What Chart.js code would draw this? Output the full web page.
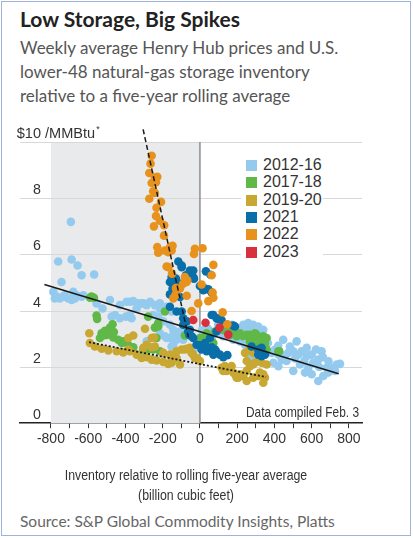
<!DOCTYPE html>
<html>
<head>
<meta charset="utf-8">
<script src="https://cdn.jsdelivr.net/npm/chart.js@4.4.1/dist/chart.umd.min.js"></script>
<style>
  body { margin: 0; background: #fff; }
  #frame { position: absolute; left: 1px; top: 1px; width: 410px; height: 535px; border: 1px solid #9fb4d8; box-sizing: border-box; }
  #title { position: absolute; left: 20px; top: 6px; font: bold 21px Lato, sans-serif; line-height: 26px; color: #222; white-space: nowrap; }
  #subtitle { position: absolute; left: 20px; top: 36px; font: 17px Lato, sans-serif; line-height: 24px; color: #555; white-space: nowrap; }
  #source { position: absolute; left: 20px; top: 511px; font: 15.5px Lato, sans-serif; line-height: 20px; color: #666; white-space: nowrap; }
  #chartBox { position: absolute; left: 0; top: 118px; width: 413px; height: 390px; }
  #legend { position: absolute; left: 241px; top: 155px; width: 82px; height: 105px; background: #fff; }
  #legend div { position: absolute; left: 5px; font: 16px "Liberation Sans", sans-serif; color: #333; line-height: 17px; white-space: nowrap; }
  #legend span { display: inline-block; width: 11px; height: 11px; margin-right: 6px; vertical-align: -1px; }
</style>
</head>
<body>
<div id="frame"></div>
<div id="title">Low Storage, Big Spikes</div>
<div id="subtitle">Weekly average Henry Hub prices and U.S.<br>lower-48 natural-gas storage inventory<br>relative to a five-year rolling average</div>
<div id="chartBox"><canvas id="chart"></canvas></div>
<div id="legend"></div>
<div id="source">Source: S&amp;P Global Commodity Insights, Platts</div>
<script>
// 데이터 (x: 저장량 편차 bcf, y: $/MMBtu)
//--------------------------------------------------------//
const seriesNames  = ['2012-16', '2017-18', '2019-20', '2021', '2022', '2023'];
const seriesColors = ['#93caee', '#5fb848', '#c8a832', '#0a6fa8', '#e8921e', '#d8303c'];

const s2012_16 = [
  [-693,7.16],[-761,5.75],[-689,5.82],[-657,5.61],[-635,5.26],[-568,5.29],[-743,5.02],
  [-787,4.67],[-770,4.5],[-752,4.44],[-725,4.55],[-707,4.44],[-689,4.38],[-662,4.55],[-626,4.55],
  [-680,4.67],[-779,4.44],[-734,4.5],[-671,4.44],[-635,4.5],
  [-555,4.26],[-523,4.08],[-483,4.38],[-456,3.85],[-430,3.73],[-474,3.79],[-376,4.32],[-358,4.34],
  [-331,4.26],[-376,3.85],[-367,3.73],[-340,4.08],[-397,3.79],[-430,4.2],[-394,4.32],[-313,4.26],
  [-286,4.2],[-215,4.26],[-179,4.14],[-304,4.26],[-268,4.32],[-242,4.2],[-215,4.08],[-152,3.97],
  [-251,3.85],[-224,3.79],[-197,3.62],[-161,3.5],[-143,3.32],[-116,3.2],[-215,3.2],[-188,3.09],
  [-161,3.03],[-125,2.97],[-90,2.97],[-286,2.91],[-143,2.79],[-179,3.03],[-143,3.14],[-107,3.26],
  [-71,3.32],[-152,2.73],[10,3.3],[45,3.35],[80,3.2],
  [63,3.03],[125,3.09],[170,3.5],[215,3.38],[251,3.32],[286,3.44],[313,3.32],[215,2.91],[251,2.79],
  [286,2.73],[179,2.97],[98,3.5],[-27,2.68],[27,2.91],
  [233,3.5],[259,3.56],[286,3.5],[313,3.44],[340,3.32],[251,3.26],[233,3.14],[242,2.79],[251,2.5],
  [268,2.32],[295,2.26],[394,2.15],[421,2.03],[385,2.5],[403,2.62],[447,2.97],[483,2.73],[519,2.91],
  [501,2.56],[528,2.44],[546,2.56],[573,2.38],[600,2.44],[623,2.62],[653,2.56],[635,2.26],[608,2.15],
  [582,1.97],[564,1.8],[600,1.74],[635,1.5],[662,1.68],[689,1.8],[707,1.97],[734,2.09],[752,2.11],
  [725,1.86],[680,1.97],[501,1.86],[537,2.09],[465,2.21],[439,2.26],[474,2.5],[573,2.68],[421,2.44],
  [365,2.85],[420,2.75],[455,2.4],[510,2.3],[560,2.2],[640,2.0],[690,2.2],[660,2.35]
];
const s2017_18 = [
  [-582,4.5],[-590,4.46],[-569,4.46],[-555,3.83],[-552,3.71],[-469,3.52],[-483,3.4],[-528,3.2],
  [-501,3.14],[-537,3.03],[-465,3.05],[-439,2.97],[-412,2.91],[-385,2.79],[-358,2.7],[-278,3.79],
  [-278,2.62],[-510,3.29],[-462,3.24],[-519,3.12],[-420,2.85],[-304,2.62],[-286,2.56],[-251,2.62],
  [-215,2.56],[-233,3.03],[-242,3.4],[-224,3.56],[0,3.03],[36,2.97],[72,2.85],[45,2.68],[18,2.79],
  [-188,3.97],[-224,3.44],[-81,3.12],[18,3.03],[36,3.2],[116,3.38],[152,3.36],[179,3.26],[215,3.2],
  [251,3.14],[286,3.03],[322,2.97],[344,2.77],[313,2.68],[358,2.62],[286,2.79],[81,3.26],[125,3.32],
  [161,3.14],[197,3.09],[233,3.09],[268,3.14],[304,3.14],[340,3.09],[358,3.03],[322,2.91],[349,2.85],
  [268,2.91],[421,2.56],[295,3.2],[426,2.56]
];
const s2019_20 = [
  [-594,3.2],[-591,2.85],[-564,2.73],[-528,2.65],[-492,2.59],[-447,2.56],[-412,2.52],[-376,2.56],
  [-340,2.44],[-313,2.32],[-286,2.35],[-259,2.26],[-233,2.23],[-197,2.18],[-170,2.11],[-152,2.15],
  [-125,2.56],[-98,2.62],[-71,2.65],[-45,2.5],[-27,2.32],[0,2.21],[-242,2.73],[-259,3.03],[-286,2.79],
  [-385,2.62],[-295,3.36],[-385,3.03],[-358,3.12],[-247,3.05],[-304,2.68],[-259,2.7],[-197,2.5],
  [-161,2.44],[-125,2.32],[-152,2.21],[-107,2.09],[-81,2.62],[-54,2.68],[-36,2.44],[-18,2.32],
  [116,1.97],[143,1.86],[179,1.8],[215,1.74],[251,1.86],[251,2.21],[286,2.09],[313,2.21],[322,1.8],
  [349,1.62],[197,1.62],[125,1.86],[134,2.03],[170,2.03],[188,1.74],[206,1.62],[233,1.68],[251,1.5],
  [286,1.62],[313,1.68],[340,1.44],[340,1.74],[268,2.03],[295,2.15],[331,2.15],[358,2.09],[242,2.5],
  [286,2.5],[268,2.68]
];
const s2021 = [
  [-116,5.75],[-98,5.55],[-36,5.43],[32,5.4],[-75,5.26],[-32,5.14],[-161,5.02],[-129,5.14],[-104,4.96],
  [-147,4.79],[-161,4.58],[0,4.88],[27,4.79],[45,4.76],[-98,5.61],[-54,5.43],[-36,5.2],[-152,5.2],
  [-143,5.02],[57,5.28],[-107,4.49],[-161,4.14],[-125,3.97],[-98,3.97],[-90,3.73],[-71,3.62],[-54,3.32],
  [-57,3.14],[-36,3.03],[-18,2.79],[0,2.77],[27,2.68],[63,2.7],[86,2.56],[107,2.44],[147,2.42],[63,3.85],
  [89,3.73],[116,3.67],[188,3.44],[89,3.26],[72,3.85],[98,3.71],[179,3.47],[54,3.03],[81,2.62],[125,2.35],
  [313,2.62],[322,2.44],[349,2.44],[27,2.85],[18,4.73],[63,4.65],[-90,3.5],[-63,3.26],[-45,3.09],[9,2.62],
  [36,2.56],[72,2.44],[277,2.73],[331,2.68],[313,2.44],[331,2.38]
];
const s2022 = [
  [-259,9.51],[-265,9.23],[-272,8.9],[-242,8.74],[-229,8.76],[-259,8.54],[-236,8.57],[-251,8.25],
  [-242,8.19],[-272,7.98],[-209,7.87],[-233,7.66],[-236,7.37],[-215,7.2],[-192,7.04],[-247,7.0],
  [-193,6.67],[-229,6.26],[-224,6.06],[-161,6.26],[-147,6.31],[-152,6.14],[-170,6.08],[-188,6.14],
  [-27,6.2],[-32,6.02],[14,6.22],[72,5.63],[-179,5.57],[-150,5.32],[63,5.26],[-81,5.2],[-68,5.08],
  [-90,4.96],[-107,4.79],[-125,4.67],[-134,4.53],[-71,4.53],[72,4.46],[9,4.93],[-170,5.55],[-72,5.02],
  [-129,4.81],[68,4.65],[45,4.34],[-9,4.26],[-45,3.99],[122,3.94],[147,3.52],[-143,4.44]
];
const s2023 = [[-36,3.67],[30,3.57],[105,3.4],[152,3.15]];

// 추세선 (양 끝점)
const trendAll  = [[-835,4.93],[745,1.76]];
const trend1920 = [[-595,2.88],[355,1.64]];
const trend2022 = [[-305,10.45],[-60,3.0]];

const xTickValues = [-800,-700,-600,-500,-400,-300,-200,-100,0,100,200,300,400,500,600,700,800];
const yTickValues = [0, 2, 4, 6, 8, 10];
const xTitleLines = ['Inventory relative to rolling five-year average', '(billion cubic feet)'];
const noteText = 'Data compiled Feb. 3';

const FONT = '"Liberation Sans", Arial, sans-serif';

// 범례 (HTML)
//--------------------------------------------------------//
const legendEl = document.getElementById('legend');
seriesNames.forEach(function(name, i) {
  let row = document.createElement('div');
  row.style.top = (1 + i * 17.3) + 'px';
  row.innerHTML = '<span style="background:' + seriesColors[i] + '"></span>' + name;
  legendEl.appendChild(row);
});

// 좁은 글자 (가로 압축) 출력
let drawNarrow = function(ctx, text, x, y, align, sx) {
  ctx.save();
  ctx.translate(x, y);
  ctx.scale(sx, 1);
  ctx.textAlign = align;
  ctx.fillText(text, 0, 0);
  ctx.restore();
};

// 차트
//--------------------------------------------------------//
let toXY = function(arr) { return arr.map(function(p) { return {x: p[0], y: p[1]}; }); };
let seriesData = [s2012_16, s2017_18, s2019_20, s2021, s2022, s2023];

let datasets = seriesData.map(function(d, i) {
  return {
    label: seriesNames[i],
    data: toXY(d),
    backgroundColor: seriesColors[i],
    borderWidth: 0,
    pointRadius: 4.3,
    order: 10 - i
  };
});
datasets.push({type: 'line', data: toXY(trendAll),  borderColor: '#1a1a1a', borderWidth: 1.5, pointRadius: 0, order: 0});
datasets.push({type: 'line', data: toXY(trend1920), borderColor: '#1a1a1a', borderWidth: 1.8, borderDash: [2, 2], pointRadius: 0, order: 0});
datasets.push({type: 'line', data: toXY(trend2022), borderColor: '#1a1a1a', borderWidth: 1.5, borderDash: [5, 3], pointRadius: 0, order: 0, clip: false});

// 배경 (음영, 그리드, 0선) + 축 글자
let backdrop = {
  id: 'backdrop',
  beforeDatasetsDraw: function(chart) {
    let ctx = chart.ctx, a = chart.chartArea, x = chart.scales.x, y = chart.scales.y;
    ctx.save();
    ctx.fillStyle = '#e9eaec';
    ctx.fillRect(x.getPixelForValue(-800), a.top, x.getPixelForValue(0) - x.getPixelForValue(-800), a.bottom - a.top);
    ctx.strokeStyle = '#d8d8d8';
    ctx.lineWidth = 1;
    yTickValues.forEach(function(v) {
      if (v === 0) return;
      let py = Math.round(y.getPixelForValue(v)) + 0.5;
      ctx.beginPath(); ctx.moveTo(a.left, py); ctx.lineTo(a.right, py); ctx.stroke();
    });
    ctx.strokeStyle = '#8e8e8e';
    ctx.lineWidth = 1.5;
    let px0 = x.getPixelForValue(0);
    ctx.beginPath(); ctx.moveTo(px0, a.top); ctx.lineTo(px0, a.bottom); ctx.stroke();
    ctx.restore();
  },
  afterDraw: function(chart) {
    let ctx = chart.ctx, a = chart.chartArea, y = chart.scales.y;
    ctx.save();
    ctx.fillStyle = '#333';
    ctx.textBaseline = 'alphabetic';
    ctx.font = '15px ' + FONT;
    yTickValues.forEach(function(v) {
      let py = y.getPixelForValue(v) - 4;
      if (v === 10) {
        drawNarrow(ctx, '$10', a.left + 21, py, 'right', 0.97);
        drawNarrow(ctx, ' /MMBtu', a.left + 21, py, 'left', 0.97);
        let w = ctx.measureText(' /MMBtu').width * 0.97;
        ctx.font = '9px ' + FONT;
        ctx.textAlign = 'left';
        ctx.fillText('*', a.left + 22 + w, py - 6);
        ctx.font = '15px ' + FONT;
      } else {
        drawNarrow(ctx, String(v), a.left + 21, py, 'right', 0.95);
      }
    });
    // 주석
    ctx.font = '14.5px ' + FONT;
    drawNarrow(ctx, noteText, a.right - 3, a.bottom - 6, 'right', 0.82);
    // x축 제목
    let cx = (a.left + a.right) / 2 - 5;
    ctx.font = '14px ' + FONT;
    drawNarrow(ctx, xTitleLines[0], cx, a.bottom + 57, 'center', 0.88);
    drawNarrow(ctx, xTitleLines[1], cx, a.bottom + 77, 'center', 0.88);
    ctx.restore();
  }
};

new Chart(document.getElementById('chart'), {
  type: 'scatter',
  data: {datasets: datasets},
  options: {
    responsive: true,
    maintainAspectRatio: false,
    animation: false,
    events: [],
    layout: {padding: {left: 20, right: 51, top: 24, bottom: 57}},
    plugins: {legend: {display: false}, tooltip: {enabled: false}},
    scales: {
      x: {
        type: 'linear', min: -966, max: 870,
        afterBuildTicks: function(s) { s.ticks = xTickValues.map(function(v) { return {value: v}; }); },
        grid: {drawOnChartArea: false, drawTicks: true, tickLength: 5, color: '#333'},
        border: {color: '#222', width: 1.5},
        ticks: {
          autoSkip: false, maxRotation: 0, padding: 3, color: '#333',
          font: {family: FONT, size: 14},
          callback: function(v) { return v % 200 === 0 ? String(v) : ''; }
        }
      },
      y: {min: 0, max: 10, display: false}
    }
  },
  plugins: [backdrop]
});
</script>
</body>
</html>
